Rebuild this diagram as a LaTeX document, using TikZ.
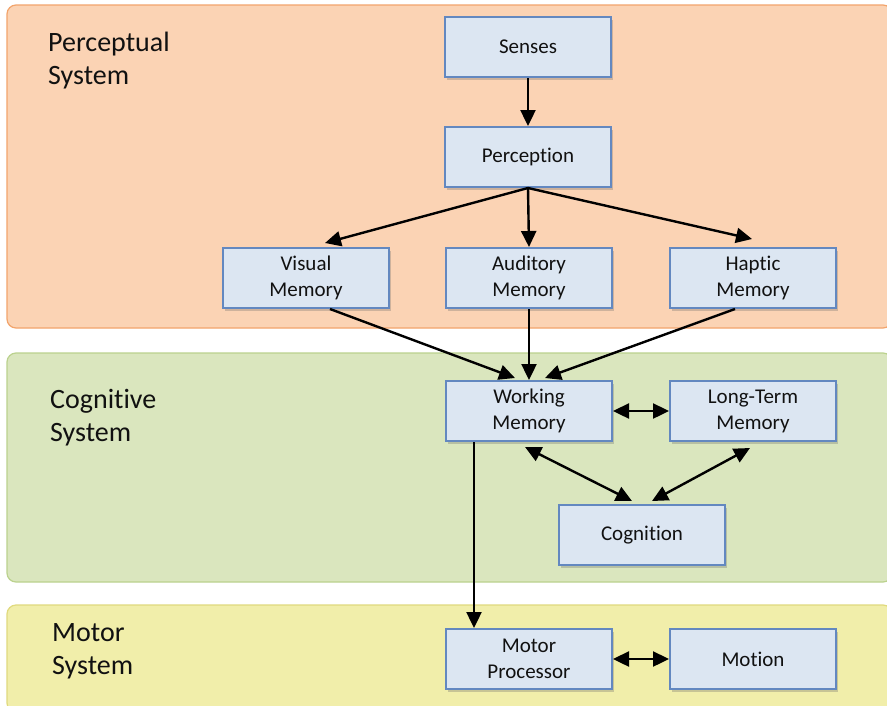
\documentclass[tikz,border=0pt]{standalone}
\usepackage{fontspec}
\setmainfont{Carlito}[Ligatures={NoCommon}, RawFeature={-liga;-clig}]
\usetikzlibrary{arrows.meta,calc,shadows}
\definecolor{bandO}{HTML}{FBD3B4}
\definecolor{bandOb}{HTML}{F2A46C}
\definecolor{bandG}{HTML}{DAE6BE}
\definecolor{bandGb}{HTML}{BBD28E}
\definecolor{bandY}{HTML}{F1EEAA}
\definecolor{bandYb}{HTML}{E0DA7E}
\definecolor{boxF}{HTML}{DCE6F2}
\definecolor{boxB}{HTML}{6388C0}
\definecolor{txt}{HTML}{111111}
\tikzset{
  band/.style={rounded corners=9pt, line width=1.2pt},
  bandlabel/.style={anchor=north west, align=left, inner sep=0pt, text=txt,
    font=\fontsize{28}{33}\selectfont},
  blk/.style={draw=boxB, fill=boxF, line width=2pt, minimum width=166pt,
    minimum height=60pt, inner sep=0pt, align=center, text=txt,
    font=\fontsize{21}{26}\selectfont,
    drop shadow={shadow xshift=2pt, shadow yshift=-2.5pt, opacity=0.3, fill=black!60}},
  tip/.tip={Triangle[length=16pt,width=15pt]},
  conn/.style={line width=2.4pt, -tip},
  bconn/.style={line width=2.4pt, tip-tip}
}
\begin{document}
\begin{tikzpicture}[x=1pt,y=-1pt]
\useasboundingbox (0,0) rectangle (887,705);
\fill[white] (0,0) rectangle (887,705);
% bands
\draw[band, fill=bandO, draw=bandOb] (7,5) rectangle (892,328);
\draw[band, fill=bandG, draw=bandGb] (7,353) rectangle (892,582);
\draw[band, fill=bandY, draw=bandYb] (7,605) rectangle (892,712);
\node[bandlabel] (lp) at (48,32) {Perceptual\\System};
\node[bandlabel] (lc) at (50,389) {Cognitive\\System};
\node[bandlabel] (lm) at (52,623) {Motor\\System};
% boxes
\node[blk] (sen) at (528,47) {Senses};
\node[blk] (per) at (528,157) {Perception};
\node[blk] (vis) at (306,278) {Visual\\Memory};
\node[blk] (aud) at (529,278) {Auditory\\Memory};
\node[blk] (hap) at (753,278) {Haptic\\Memory};
\node[blk] (wm) at (529,411) {Working\\Memory};
\node[blk] (ltm) at (753,411) {Long-Term\\Memory};
\node[blk] (cog) at (642,535) {Cognition};
\node[blk] (mp) at (529,659) {Motor\\Processor};
\node[blk] (mot) at (753,659) {Motion};
% connectors
\draw[conn] (sen.south) -- (per.north);
\draw[conn] (per.south) -- ($(vis.north)+(19,-4)$);
\draw[conn] (per.south) -- (aud.north);
\draw[conn] (per.south) -- ($(hap.north)+(-1,-8)$);
\draw[conn] ($(vis.south)+(24,0)$) -- ($(wm.north)+(-14,-2)$);
\draw[conn] (aud.south) -- (wm.north);
\draw[conn] ($(hap.south)+(-18,0)$) -- ($(wm.north)+(16,-2)$);
\draw[bconn] (wm.east) -- (ltm.west);
\draw[bconn] ($(wm.south)+(-4,5)$) -- ($(cog.north)+(-10,-3)$);
\draw[bconn] ($(ltm.south)+(-3,6)$) -- ($(cog.north)+(10,-3)$);
\draw[conn] ($(wm.south west)+(29,0)$) -- ($(mp.north west)+(29,0)$);
\draw[bconn] (mp.east) -- (mot.west);
\end{tikzpicture}
\end{document}
